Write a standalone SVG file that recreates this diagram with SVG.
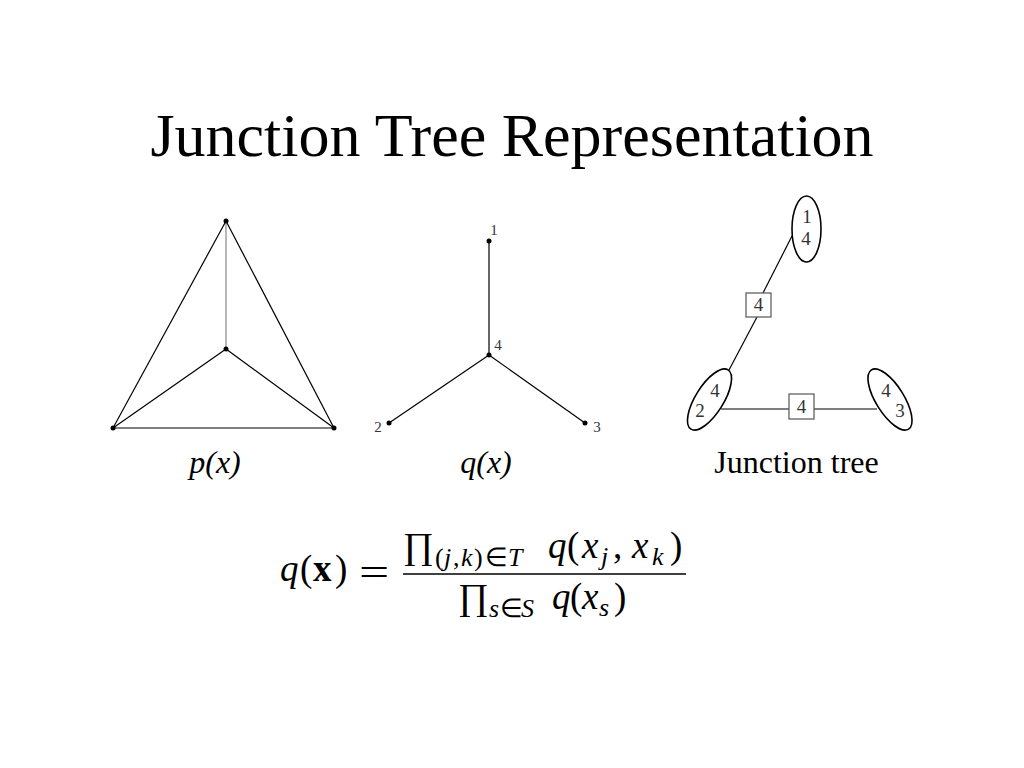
<svg xmlns="http://www.w3.org/2000/svg" width="1024" height="768" viewBox="0 0 1024 768">
<style>
text { font-family: "Liberation Serif", "Times New Roman", serif; fill: #000; }
.title { font-size: 62px; text-anchor: middle; }
.cap { font-size: 32px; text-anchor: middle; }
.it { font-style: italic; }
.edge { stroke: #000; stroke-width: 1.2; fill: none; }
.grey { stroke: #888; }
.dot { fill: #000; }
.small { font-size: 15px; fill: #333; text-anchor: middle; }
.jl { font-size: 19px; fill: #333; text-anchor: middle; }
.clique { fill: none; stroke: #000; stroke-width: 1.6; }
.sep { fill: #fff; stroke: #555; stroke-width: 1.2; }
.m { font-size: 37px; }
.sub { font-size: 26px; }
</style>
<rect width="1024" height="768" fill="#fff"/>
<text class="title" x="512" y="156">Junction Tree Representation</text>

<g id="connectors">
  <!-- p(x) -->
  <line class="edge" x1="226" y1="221" x2="113" y2="428"/>
  <line class="edge" x1="226" y1="221" x2="334" y2="428"/>
  <line class="edge grey" x1="226" y1="221" x2="226" y2="349"/>
  <line class="edge" x1="226" y1="349" x2="113" y2="428"/>
  <line class="edge" x1="226" y1="349" x2="334" y2="428"/>
  <line class="edge" x1="113" y1="428" x2="334" y2="428"/>
  <!-- q(x) -->
  <line class="edge" x1="489" y1="241" x2="489" y2="355"/>
  <line class="edge" x1="489" y1="355" x2="389" y2="423"/>
  <line class="edge" x1="489" y1="355" x2="585" y2="423"/>
  <!-- junction tree -->
  <line class="edge" x1="792" y1="236" x2="763" y2="293"/>
  <line class="edge" x1="757" y1="317" x2="729" y2="370"/>
  <line class="edge" x1="721" y1="409" x2="789" y2="409"/>
  <line class="edge" x1="814" y1="409" x2="877" y2="409"/>
</g>

<g id="p-top"><circle class="dot" cx="226" cy="221" r="2.5"/></g>
<g id="p-center"><circle class="dot" cx="226" cy="349" r="2.5"/></g>
<g id="p-left"><circle class="dot" cx="113" cy="428" r="2.5"/></g>
<g id="p-right"><circle class="dot" cx="334" cy="428" r="2.5"/></g>

<g id="q-1"><circle class="dot" cx="489" cy="241" r="2.5"/><text class="small" x="494" y="235">1</text></g>
<g id="q-4"><circle class="dot" cx="489" cy="355" r="2.5"/><text class="small" x="498" y="350">4</text></g>
<g id="q-2"><circle class="dot" cx="389" cy="423" r="2.5"/><text class="small" x="378" y="432">2</text></g>
<g id="q-3"><circle class="dot" cx="585" cy="423" r="2.5"/><text class="small" x="597" y="432">3</text></g>

<g id="jt-14">
  <ellipse class="clique" cx="806.5" cy="229" rx="14.5" ry="33"/>
  <text class="jl" x="807" y="223">1</text>
  <text class="jl" x="806" y="245">4</text>
</g>
<g id="jt-sep-top">
  <rect class="sep" x="746" y="293" width="25" height="24"/>
  <text class="jl" x="758.5" y="311">4</text>
</g>
<g id="jt-24">
  <ellipse class="clique" cx="0" cy="0" rx="14" ry="35" transform="translate(709.5 399.5) rotate(32)"/>
  <text class="jl" x="715" y="397">4</text>
  <text class="jl" x="700" y="417">2</text>
</g>
<g id="jt-sep-bottom">
  <rect class="sep" x="789" y="394" width="25" height="25"/>
  <text class="jl" x="801.5" y="413">4</text>
</g>
<g id="jt-43">
  <ellipse class="clique" cx="0" cy="0" rx="14" ry="35" transform="translate(890 399.5) rotate(-32)"/>
  <text class="jl" x="886" y="397">4</text>
  <text class="jl" x="900" y="417">3</text>
</g>

<text class="cap it" x="215" y="473">p(x)</text>
<text class="cap it" x="486" y="473">q(x)</text>
<text class="cap" x="796.5" y="473">Junction tree</text>

<g id="formula">
  <text class="m" y="581"><tspan x="280" class="it">q</tspan><tspan x="300">(</tspan><tspan x="313" font-weight="bold">x</tspan><tspan x="335">)</tspan></text>
  <text class="m" x="0" y="0" transform="translate(359 585) scale(1.45 1)">=</text>
  <line x1="403" y1="574" x2="686" y2="574" stroke="#000" stroke-width="1.5"/>
  <text class="m" x="403" y="558">∏</text>
  <text class="sub" y="566"><tspan x="435">(</tspan><tspan x="444" class="it">j</tspan><tspan x="453">,</tspan><tspan x="461" class="it">k</tspan><tspan x="474">)</tspan><tspan x="485">∈</tspan><tspan x="508" class="it">T</tspan></text>
  <text class="m" y="558"><tspan x="548" class="it">q</tspan><tspan x="567">(</tspan><tspan x="582" class="it">x</tspan><tspan x="601" y="565" class="sub it">j</tspan><tspan x="613" y="558">,</tspan><tspan x="632" class="it">x</tspan><tspan x="652" y="565" class="sub it">k</tspan><tspan x="670" y="558">)</tspan></text>
  <text class="m" x="458" y="609">∏</text>
  <text class="sub" y="617"><tspan x="489" class="it">s</tspan><tspan x="500">∈</tspan><tspan x="521" class="it">S</tspan></text>
  <text class="m" y="609"><tspan x="552" class="it">q</tspan><tspan x="570">(</tspan><tspan x="582" class="it">x</tspan><tspan x="599" y="616" class="sub it">s</tspan><tspan x="614" y="609">)</tspan></text>
</g>
</svg>
